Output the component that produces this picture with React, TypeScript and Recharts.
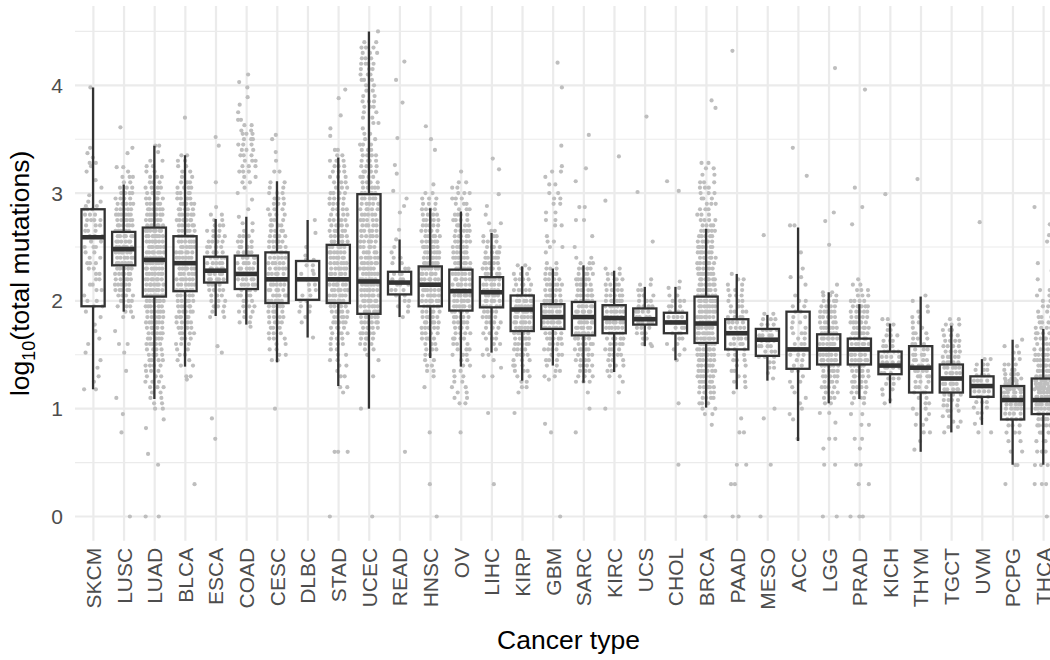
import React from 'react';
import { ComposedChart, XAxis, YAxis, CartesianGrid, Bar, Scatter } from 'recharts';

const FONT = '"Liberation Sans", Arial, Helvetica, sans-serif';

const cancerTypes = ['SKCM','LUSC','LUAD','BLCA','ESCA','COAD','CESC','DLBC','STAD','UCEC','READ','HNSC','OV','LIHC','KIRP','GBM','SARC','KIRC','UCS','CHOL','BRCA','PAAD','MESO','ACC','LGG','PRAD','KICH','THYM','TGCT','UVM','PCPG','THCA'];
const whiskerLow  = [1.18,1.90,1.09,1.39,1.86,1.78,1.43,1.66,1.21,1.00,1.85,1.47,1.39,1.52,1.26,1.40,1.24,1.34,1.58,1.45,1.01,1.18,1.26,0.70,1.05,1.09,1.05,0.60,0.78,0.85,0.48,0.48];
const quartile1   = [1.95,2.33,2.04,2.09,2.17,2.11,1.98,2.01,1.98,1.88,2.06,1.95,1.91,1.94,1.72,1.74,1.68,1.70,1.78,1.70,1.61,1.55,1.49,1.37,1.41,1.41,1.32,1.15,1.15,1.11,0.90,0.95];
const medians     = [2.59,2.48,2.38,2.35,2.28,2.25,2.20,2.20,2.20,2.18,2.17,2.15,2.09,2.08,1.92,1.85,1.85,1.84,1.83,1.80,1.79,1.70,1.64,1.55,1.55,1.55,1.40,1.38,1.28,1.21,1.08,1.08];
const quartile3   = [2.85,2.64,2.68,2.60,2.41,2.42,2.45,2.37,2.52,2.99,2.27,2.32,2.29,2.22,2.05,1.97,1.99,1.96,1.93,1.89,2.04,1.83,1.74,1.90,1.69,1.65,1.53,1.58,1.41,1.30,1.21,1.28];
const whiskerHigh = [3.98,3.08,3.44,3.35,2.76,2.78,3.11,2.75,3.33,4.50,2.57,2.86,2.83,2.63,2.32,2.30,2.33,2.28,2.13,2.13,2.67,2.25,1.87,2.68,2.08,1.97,1.79,2.04,1.77,1.46,1.64,1.74];
const yTicks = [0, 1, 2, 3, 4];
const yMinorTicks = [0.5, 1.5, 2.5, 3.5, 4.5];

// jittered samples: [log10 value, number of samples seen at that level]
type Level = [number, number];
const ptsSKCM: Level[] = [[3.98,1],[3.42,1],[3.37,1],[3.33,1],[3.28,2],[3.25,1],[3.2,1],[3.12,1],[3.05,1],[2.98,1],[2.92,2],[2.88,2],[2.85,3],[2.8,3],[2.75,4],[2.7,3],[2.65,3],[2.6,3],[2.55,2],[2.5,3],[2.45,2],[2.4,2],[2.35,3],[2.3,2],[2.25,2],[2.2,2],[2.15,2],[2.1,2],[2.05,1],[2,2],[1.95,2],[1.9,1],[1.85,1],[1.78,1],[1.72,1],[1.65,1],[1.6,1],[1.52,1],[1.45,1],[1.38,1],[1.3,1],[1.25,1],[1.18,2]];
const ptsLUSC: Level[] = [[3.61,1],[3.42,1],[3.37,1],[3.24,2],[3.2,1],[3.15,3],[3.1,2],[3.05,3],[3,4],[2.95,4],[2.9,5],[2.85,5],[2.8,6],[2.75,6],[2.7,6],[2.65,6],[2.6,6],[2.55,6],[2.5,6],[2.45,6],[2.4,6],[2.35,6],[2.3,6],[2.25,6],[2.2,5],[2.15,5],[2.1,5],[2.05,4],[2,4],[1.95,3],[1.9,2],[1.85,2],[1.72,1],[1.6,2],[1.52,1],[1.35,1],[1.1,1],[0.95,1],[0.78,1],[0,1]];
const ptsLUAD: Level[] = [[3.44,2],[3.38,1],[3.3,2],[3.25,2],[3.2,2],[3.15,3],[3.1,3],[3.05,4],[3,4],[2.95,5],[2.9,5],[2.85,6],[2.8,6],[2.75,6],[2.7,6],[2.65,7],[2.6,7],[2.55,7],[2.5,7],[2.45,7],[2.4,7],[2.35,7],[2.3,7],[2.25,7],[2.2,7],[2.15,7],[2.1,7],[2.05,7],[2,7],[1.95,6],[1.9,6],[1.85,6],[1.8,6],[1.75,5],[1.7,5],[1.65,5],[1.6,5],[1.55,4],[1.5,4],[1.45,4],[1.4,4],[1.35,3],[1.3,3],[1.25,3],[1.2,3],[1.15,2],[1.1,2],[1.05,2],[1,2],[0.9,1],[0.82,1],[0.58,1],[0.48,1],[0,2]];
const ptsBLCA: Level[] = [[3.7,1],[3.35,2],[3.3,2],[3.25,2],[3.2,2],[3.15,2],[3.1,3],[3.05,4],[3,4],[2.95,4],[2.9,5],[2.85,5],[2.8,6],[2.75,6],[2.7,6],[2.65,6],[2.6,6],[2.55,6],[2.5,6],[2.45,6],[2.4,6],[2.35,6],[2.3,6],[2.25,6],[2.2,6],[2.15,6],[2.1,6],[2.05,5],[2,5],[1.95,5],[1.9,5],[1.85,5],[1.8,4],[1.75,4],[1.7,4],[1.65,3],[1.6,3],[1.55,2],[1.5,2],[1.45,2],[1.4,2],[1.3,2],[1.27,1],[0.3,1]];
const ptsESCA: Level[] = [[3.52,1],[3.44,1],[3.1,1],[2.87,1],[2.8,2],[2.75,2],[2.7,3],[2.65,3],[2.6,3],[2.55,4],[2.5,4],[2.45,4],[2.4,5],[2.35,5],[2.3,5],[2.25,5],[2.2,5],[2.15,4],[2.1,4],[2.05,3],[2,3],[1.95,3],[1.9,2],[1.85,2],[1.58,1],[1.52,1],[0.91,1],[0.72,1]];
const ptsCOAD: Level[] = [[4.1,1],[4.03,1],[3.98,1],[3.89,1],[3.82,1],[3.75,1],[3.68,2],[3.63,2],[3.58,2],[3.55,3],[3.5,3],[3.45,3],[3.4,3],[3.35,3],[3.3,3],[3.25,3],[3.2,3],[3.15,2],[3.1,2],[3.05,1],[3,1],[2.94,1],[2.85,1],[2.78,1],[2.72,2],[2.65,2],[2.6,3],[2.55,3],[2.5,4],[2.45,4],[2.4,5],[2.35,5],[2.3,5],[2.25,5],[2.2,5],[2.15,5],[2.1,4],[2.05,4],[2,3],[1.95,3],[1.9,3],[1.85,2],[1.8,2],[1.76,1]];
const ptsCESC: Level[] = [[3.54,1],[3.5,1],[3.38,1],[3.3,1],[3.2,2],[3.1,2],[3.05,2],[3,3],[2.95,3],[2.9,3],[2.85,3],[2.8,3],[2.75,3],[2.7,4],[2.65,4],[2.6,4],[2.55,5],[2.5,5],[2.45,5],[2.4,5],[2.35,5],[2.3,5],[2.25,5],[2.2,5],[2.15,5],[2.1,5],[2.05,5],[2,5],[1.95,5],[1.9,4],[1.85,4],[1.8,4],[1.75,3],[1.7,3],[1.65,3],[1.6,2],[1.55,2],[1.5,2],[1.45,2],[1,1]];
const ptsDLBC: Level[] = [[2.75,1],[2.63,1],[2.5,1],[2.42,1],[2.38,2],[2.33,2],[2.28,1],[2.25,2],[2.2,2],[2.15,2],[2.1,2],[2.05,2],[2,2],[1.95,2],[1.9,2],[1.85,1],[1.8,1],[1.66,1]];
const ptsSTAD: Level[] = [[3.96,1],[3.88,1],[3.72,1],[3.6,1],[3.53,1],[3.4,2],[3.35,2],[3.3,3],[3.25,3],[3.2,3],[3.15,3],[3.1,3],[3.05,3],[3,4],[2.95,4],[2.9,4],[2.85,4],[2.8,4],[2.75,5],[2.7,5],[2.65,5],[2.6,5],[2.55,5],[2.5,5],[2.45,6],[2.4,6],[2.35,6],[2.3,6],[2.25,6],[2.2,6],[2.15,6],[2.1,6],[2.05,6],[2,6],[1.95,5],[1.9,5],[1.85,5],[1.8,5],[1.75,4],[1.7,4],[1.65,3],[1.6,3],[1.55,2],[1.5,2],[1.45,2],[1.4,2],[1.35,1],[1.3,2],[1.2,2],[1.15,1],[0.6,3],[0,1]];
const ptsUCEC: Level[] = [[4.5,1],[4.4,2],[4.35,3],[4.3,3],[4.25,3],[4.2,4],[4.15,3],[4.1,3],[4.05,3],[4,2],[3.95,2],[3.9,2],[3.85,3],[3.8,3],[3.75,2],[3.7,2],[3.65,2],[3.6,1],[3.55,2],[3.5,2],[3.45,3],[3.4,3],[3.35,4],[3.3,4],[3.25,4],[3.2,4],[3.15,4],[3.1,4],[3.05,5],[3,5],[2.95,5],[2.9,5],[2.85,5],[2.8,5],[2.75,5],[2.7,5],[2.65,5],[2.6,5],[2.55,5],[2.5,5],[2.45,5],[2.4,6],[2.35,6],[2.3,6],[2.25,6],[2.2,6],[2.15,6],[2.1,6],[2.05,6],[2,6],[1.95,6],[1.9,6],[1.85,6],[1.8,6],[1.75,5],[1.7,5],[1.65,4],[1.6,3],[1.55,2],[1.5,1],[1.45,1],[1.3,1],[1,1],[0,1]];
const ptsREAD: Level[] = [[4.22,1],[4.05,1],[3.84,1],[3.51,1],[3.26,1],[3.18,1],[3.02,1],[2.95,1],[2.88,1],[2.82,1],[2.66,1],[2.57,1],[2.5,1],[2.45,1],[2.4,2],[2.35,2],[2.3,2],[2.25,3],[2.2,3],[2.15,3],[2.1,3],[2.05,2],[2,2],[1.95,2],[1.9,1],[1.85,1],[0.6,1]];
const ptsHNSC: Level[] = [[3.62,1],[3.5,1],[3.4,1],[3.08,1],[3,2],[2.95,3],[2.9,3],[2.85,4],[2.8,4],[2.75,5],[2.7,5],[2.65,5],[2.6,5],[2.55,6],[2.5,6],[2.45,6],[2.4,6],[2.35,6],[2.3,6],[2.25,6],[2.2,6],[2.15,6],[2.1,6],[2.05,6],[2,6],[1.95,6],[1.9,5],[1.85,5],[1.8,5],[1.75,5],[1.7,4],[1.65,4],[1.6,3],[1.55,3],[1.5,2],[1.45,2],[1.4,2],[1.35,2],[1.3,1],[1.2,1],[0.78,1],[0.3,1],[0,1]];
const ptsOV: Level[] = [[3.2,1],[3.1,2],[3.05,2],[3,3],[2.95,3],[2.9,3],[2.85,3],[2.8,4],[2.75,4],[2.7,4],[2.65,5],[2.6,5],[2.55,5],[2.5,5],[2.45,5],[2.4,6],[2.35,6],[2.3,6],[2.25,6],[2.2,6],[2.15,6],[2.1,6],[2.05,6],[2,6],[1.95,6],[1.9,5],[1.85,5],[1.8,5],[1.75,4],[1.7,4],[1.65,4],[1.6,3],[1.55,3],[1.5,3],[1.45,2],[1.4,2],[1.35,2],[1.3,2],[1.25,2],[1.2,2],[1.15,2],[1.1,2],[1.05,2],[0.78,1]];
const ptsLIHC: Level[] = [[3.32,1],[3.22,1],[2.99,1],[2.88,1],[2.8,1],[2.72,2],[2.65,2],[2.6,3],[2.55,3],[2.5,4],[2.45,4],[2.4,5],[2.35,5],[2.3,5],[2.25,5],[2.2,5],[2.15,5],[2.1,5],[2.05,5],[2,5],[1.95,5],[1.9,4],[1.85,4],[1.8,4],[1.75,3],[1.7,3],[1.65,3],[1.6,2],[1.55,2],[1.5,2],[1.45,1],[1.38,1],[1.3,2],[0.96,1],[0.3,1]];
const ptsKIRP: Level[] = [[2.33,2],[2.3,2],[2.25,3],[2.2,4],[2.15,4],[2.1,5],[2.05,5],[2,6],[1.95,6],[1.9,6],[1.85,6],[1.8,6],[1.75,6],[1.7,5],[1.65,5],[1.6,5],[1.55,4],[1.5,4],[1.45,3],[1.4,3],[1.35,3],[1.3,2],[1.25,2],[1.2,2],[1.15,1],[0.96,1]];
const ptsGBM: Level[] = [[4.21,1],[3.98,1],[3.44,1],[3.25,1],[3.2,2],[3.15,1],[3.08,2],[3,2],[2.95,2],[2.9,2],[2.82,2],[2.75,2],[2.7,2],[2.6,1],[2.55,2],[2.5,2],[2.45,1],[2.35,2],[2.3,3],[2.25,4],[2.2,4],[2.15,5],[2.1,5],[2.05,5],[2,6],[1.95,6],[1.9,6],[1.85,6],[1.8,6],[1.75,6],[1.7,5],[1.65,5],[1.6,4],[1.55,4],[1.5,3],[1.45,3],[1.4,2],[1.35,2],[1.3,2],[1.27,1],[0.86,1],[0.78,1],[0,1]];
const ptsSARC: Level[] = [[3.54,1],[3.23,1],[3.11,1],[2.87,2],[2.75,2],[2.6,1],[2.5,1],[2.4,2],[2.35,3],[2.3,4],[2.25,4],[2.2,5],[2.15,5],[2.1,5],[2.05,6],[2,6],[1.95,6],[1.9,6],[1.85,6],[1.8,6],[1.75,6],[1.7,6],[1.65,5],[1.6,5],[1.55,5],[1.5,4],[1.45,4],[1.4,4],[1.35,3],[1.3,3],[1.25,3],[1.15,1],[1,1],[0.78,1]];
const ptsKIRC: Level[] = [[3.34,1],[2.93,1],[2.3,2],[2.25,3],[2.2,4],[2.15,4],[2.1,5],[2.05,5],[2,6],[1.95,6],[1.9,6],[1.85,6],[1.8,6],[1.75,6],[1.7,5],[1.65,5],[1.6,5],[1.55,4],[1.5,4],[1.45,3],[1.4,3],[1.35,2],[1.3,2],[1.25,1],[1.15,1],[1,1]];
const ptsUCS: Level[] = [[3.71,1],[3.01,1],[2.55,1],[2.2,1],[2.15,2],[2.1,2],[2.05,3],[2,3],[1.95,4],[1.9,4],[1.85,4],[1.8,4],[1.75,3],[1.7,3],[1.65,2],[1.6,2],[1.58,1]];
const ptsCHOL: Level[] = [[3.11,1],[3.02,1],[2.18,1],[2.12,2],[2.05,2],[2,3],[1.95,3],[1.9,3],[1.85,4],[1.8,4],[1.75,3],[1.7,3],[1.65,2],[1.6,2],[1.55,2],[1.5,1],[1.45,1],[1.05,1],[0.48,1]];
const ptsBRCA: Level[] = [[3.86,1],[3.79,1],[3.28,2],[3.23,2],[3.17,2],[3.1,3],[3.05,3],[3,3],[2.95,3],[2.9,3],[2.85,3],[2.8,3],[2.75,4],[2.7,4],[2.65,5],[2.6,5],[2.55,5],[2.5,6],[2.45,6],[2.4,6],[2.35,6],[2.3,6],[2.25,7],[2.2,7],[2.15,7],[2.1,7],[2.05,7],[2,7],[1.95,7],[1.9,7],[1.85,7],[1.8,7],[1.75,7],[1.7,7],[1.65,7],[1.6,7],[1.55,7],[1.5,7],[1.45,6],[1.4,6],[1.35,6],[1.3,6],[1.25,5],[1.2,5],[1.15,4],[1.1,4],[1.05,3],[1,2],[0.95,2],[0.85,1],[0,1]];
const ptsPAAD: Level[] = [[4.32,1],[2.25,1],[2.2,2],[2.15,2],[2.1,3],[2.05,3],[2,3],[1.95,3],[1.9,4],[1.85,4],[1.8,4],[1.75,4],[1.7,4],[1.65,4],[1.6,4],[1.55,3],[1.5,3],[1.45,3],[1.4,2],[1.35,2],[1.3,2],[1.25,2],[1.2,1],[1.15,1],[0.91,1],[0.78,2],[0.48,2],[0.3,2],[0,2]];
const ptsMESO: Level[] = [[2.61,1],[1.88,2],[1.83,3],[1.78,3],[1.73,4],[1.68,4],[1.63,4],[1.58,4],[1.53,3],[1.48,3],[1.43,2],[1.38,2],[1.33,1],[1.28,1],[1,1],[0.91,1],[0.48,1],[0,1]];
const ptsACC: Level[] = [[3.42,1],[3.16,1],[2.7,2],[2.45,1],[2.3,1],[2.22,2],[2.15,1],[2.05,1],[2,2],[1.95,2],[1.9,2],[1.85,2],[1.8,2],[1.75,2],[1.7,3],[1.65,2],[1.6,3],[1.55,3],[1.5,3],[1.45,2],[1.4,2],[1.35,2],[1.3,1],[1.25,2],[1.2,1],[1.15,1],[1.1,1],[1.05,1],[1,1],[0.95,1],[0.9,1],[0.72,1]];
const ptsLGG: Level[] = [[4.16,1],[2.82,1],[2.74,1],[2.52,1],[2.15,1],[2.08,2],[2.05,3],[2,4],[1.95,4],[1.9,5],[1.85,5],[1.8,5],[1.75,6],[1.7,6],[1.65,6],[1.6,6],[1.55,6],[1.5,6],[1.45,6],[1.4,6],[1.35,5],[1.3,5],[1.25,4],[1.2,4],[1.15,3],[1.1,3],[1.05,2],[0.96,2],[0.87,1],[0.72,2],[0.63,1],[0.48,2],[0,2]];
const ptsPRAD: Level[] = [[3.96,1],[3.05,1],[2.87,1],[2.71,1],[2.2,1],[2.15,2],[2.1,3],[2.05,3],[2,4],[1.95,5],[1.9,5],[1.85,5],[1.8,6],[1.75,6],[1.7,6],[1.65,6],[1.6,6],[1.55,6],[1.5,6],[1.45,6],[1.4,5],[1.35,5],[1.3,5],[1.25,4],[1.2,4],[1.15,3],[1.1,3],[1.05,2],[0.95,2],[0.85,2],[0.72,2],[0.63,1],[0.48,2],[0.3,2],[0,3]];
const ptsKICH: Level[] = [[2.99,1],[1.83,2],[1.78,2],[1.73,2],[1.68,3],[1.63,3],[1.58,3],[1.53,4],[1.48,4],[1.43,4],[1.38,4],[1.33,3],[1.28,3],[1.23,2],[1.18,2],[1.13,1],[1.08,1],[1.05,1]];
const ptsTHYM: Level[] = [[3.13,1],[2.05,1],[2,1],[1.95,1],[1.9,2],[1.85,2],[1.8,2],[1.75,2],[1.7,3],[1.65,3],[1.6,3],[1.55,3],[1.5,4],[1.45,4],[1.4,4],[1.35,4],[1.3,4],[1.25,3],[1.2,3],[1.15,3],[1.1,2],[1.05,2],[1,2],[0.95,2],[0.9,1],[0.85,2],[0.78,2],[0.7,1],[0.62,1]];
const ptsTGCT: Level[] = [[1.83,2],[1.78,3],[1.73,3],[1.68,3],[1.63,4],[1.58,4],[1.53,4],[1.48,5],[1.43,5],[1.38,5],[1.33,5],[1.28,5],[1.23,5],[1.18,5],[1.13,4],[1.08,4],[1.03,3],[0.98,3],[0.93,2],[0.88,2],[0.83,2],[0.78,1]];
const ptsUVM: Level[] = [[2.73,1],[1.46,2],[1.41,3],[1.36,3],[1.31,4],[1.26,4],[1.21,4],[1.16,4],[1.11,3],[1.06,3],[1.01,2],[0.96,2],[0.91,1],[0.86,1],[0.78,2]];
const ptsPCPG: Level[] = [[1.64,1],[1.58,2],[1.52,2],[1.46,2],[1.41,3],[1.36,3],[1.32,4],[1.28,4],[1.26,4],[1.23,4],[1.2,5],[1.18,5],[1.15,5],[1.11,5],[1.08,5],[1.04,5],[1,5],[0.954,4],[0.903,4],[0.845,3],[0.778,3],[0.699,2],[0.602,2],[0.477,2],[0.301,1]];
const ptsTHCA: Level[] = [[2.87,1],[2.71,1],[2.61,1],[2.55,2],[2.35,1],[2.28,1],[2.2,1],[2.1,2],[2.05,2],[2,2],[1.95,2],[1.9,3],[1.85,3],[1.8,3],[1.75,4],[1.7,4],[1.65,5],[1.6,5],[1.55,5],[1.5,6],[1.45,6],[1.4,6],[1.35,6],[1.3,6],[1.26,6],[1.23,6],[1.2,6],[1.18,6],[1.15,6],[1.11,6],[1.08,6],[1.04,6],[1,6],[0.954,5],[0.903,5],[0.845,5],[0.778,4],[0.699,4],[0.602,3],[0.477,3],[0.301,3],[0,1]];

const pointSets: Level[][] = [ptsSKCM,ptsLUSC,ptsLUAD,ptsBLCA,ptsESCA,ptsCOAD,ptsCESC,ptsDLBC,ptsSTAD,ptsUCEC,ptsREAD,ptsHNSC,ptsOV,ptsLIHC,ptsKIRP,ptsGBM,ptsSARC,ptsKIRC,ptsUCS,ptsCHOL,ptsBRCA,ptsPAAD,ptsMESO,ptsACC,ptsLGG,ptsPRAD,ptsKICH,ptsTHYM,ptsTGCT,ptsUVM,ptsPCPG,ptsTHCA];

const boxRows = cancerTypes.map((name, idx) => ({
  idx, name,
  lo: whiskerLow[idx], q1: quartile1[idx], med: medians[idx], q3: quartile3[idx], hi: whiskerHigh[idx],
}));

const pointRows = pointSets.flatMap((levels, idx) =>
  levels.flatMap(([v, n], li) => Array.from({ length: n }, (_, j) => ({ idx, v, li, j, n })))
);

const frac = (a: number) => a - Math.floor(a);
const hash = (a: number) => frac(Math.sin(a * 12.9898 + 4.1414) * 43758.5453);
const JITTER = 9.3;

// deterministic horizontal spread (display jitter only) of samples within their category
const JitterDot = (props: any) => {
  const { cx, cy } = props;
  const p = props.payload || props;
  if (cx == null || cy == null || isNaN(cx) || isNaN(cy)) return null;
  const shift = hash(p.idx * 97 + p.li * 13 + 0.5);
  const strat = (p.j + shift) / p.n;
  const wobble = (hash(p.idx * 131 + p.li * 7 + p.j * 3 + 0.25) - 0.5) / p.n;
  const u = p.n > 1 ? frac(strat + wobble * 0.8) : shift;
  const off = (2 * u - 1) * JITTER;
  return <circle cx={cx + off} cy={cy} r={2.1} fill="#bebebe" />;
};

const BoxShape = (props: any) => {
  const { x, y, width, height, payload } = props;
  if (!payload || height == null) return null;
  const top = Math.min(y, y + height);
  const h = Math.abs(height);
  const k = h / (payload.hi - payload.lo);
  const Y = (v: number) => top + (payload.hi - v) * k;
  const cx = x + width / 2;
  const hw = 11.6;
  const col = '#333333';
  return (
    <g>
      <line x1={cx} x2={cx} y1={Y(payload.hi)} y2={Y(payload.q3)} stroke={col} strokeWidth={2.3} />
      <line x1={cx} x2={cx} y1={Y(payload.q1)} y2={Y(payload.lo)} stroke={col} strokeWidth={2.3} />
      <rect x={cx - hw} y={Y(payload.q3)} width={hw * 2} height={Y(payload.q1) - Y(payload.q3)} fill="none" stroke={col} strokeWidth={2.3} />
      <line x1={cx - hw} x2={cx + hw} y1={Y(payload.med)} y2={Y(payload.med)} stroke={col} strokeWidth={4.6} />
    </g>
  );
};

const XTick = (props: any) => {
  const { x, y, payload } = props;
  const label = cancerTypes[payload.value];
  return (
    <text x={x} y={y} transform={`rotate(-90 ${x} ${y})`} textAnchor="end" dominantBaseline="central"
      fontSize={21} fill="#4d4d4d" fontFamily={FONT}>{label}</text>
  );
};

const YTitle = (props: any) => {
  const vb = props.viewBox || { x: 0, y: 6, width: 75, height: 534.8 };
  const cx = vb.x + 29.5;
  const cy = vb.y + vb.height / 2;
  return (
    <text x={cx} y={cy} transform={`rotate(-90 ${cx} ${cy})`} textAnchor="middle" fontSize={26.5} fill="#000" fontFamily={FONT}>
      log<tspan fontSize={18} dy={6}>10</tspan><tspan dy={-6}>(total mutations)</tspan>
    </text>
  );
};

const XTitle = (props: any) => {
  const vb = props.viewBox || { x: 75, y: 540.8, width: 987, height: 119.2 };
  return (
    <text x={vb.x + vb.width / 2} y={vb.y + 108} textAnchor="middle" fontSize={26.5} fill="#000" fontFamily={FONT}>Cancer type</text>
  );
};

export default function App() {
  const xTicks = cancerTypes.map((_, i) => i);
  return (
    <div style={{ position: 'fixed', left: 0, top: 0, width: 1050, height: 660, overflow: 'hidden', background: '#fff' }}>
      <ComposedChart width={1072} height={660} data={boxRows} margin={{ top: 6, right: 10, bottom: 0, left: 0 }}>
        <CartesianGrid vertical={false} horizontalValues={yMinorTicks} stroke="#ebebeb" strokeWidth={1.1} />
        <CartesianGrid syncWithTicks horizontalValues={yTicks} stroke="#ebebeb" strokeWidth={2.2} />
        <XAxis type="number" dataKey="idx" domain={[-0.6, 31.6]} ticks={xTicks} interval={0} allowDataOverflow
          axisLine={false} tickLine={false} tickSize={0} tickMargin={7} height={119.2} tick={<XTick />} label={<XTitle />} />
        <YAxis type="number" dataKey="v" domain={[-0.2255, 4.7355]} ticks={yTicks} allowDataOverflow width={75}
          axisLine={false} tickLine={false} tickSize={0} tickMargin={12}
          tick={{ fontSize: 21, fill: '#4d4d4d', fontFamily: FONT }} label={<YTitle />} />
        <Scatter data={pointRows} dataKey="v" shape={<JitterDot />} isAnimationActive={false} zIndex={250} />
        <Bar dataKey={(d: any) => [d.lo, d.hi]} barSize={24} shape={<BoxShape />} isAnimationActive={false} zIndex={700} />
      </ComposedChart>
    </div>
  );
}
